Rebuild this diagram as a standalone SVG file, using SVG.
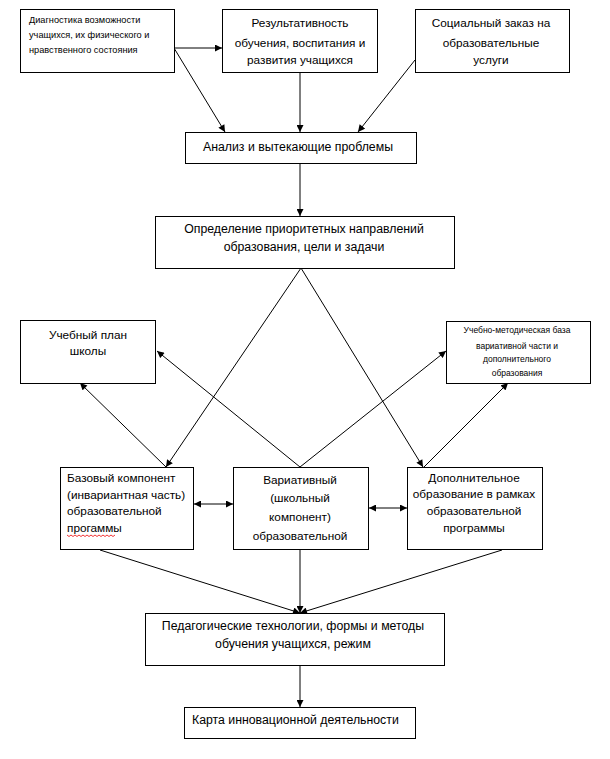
<svg xmlns="http://www.w3.org/2000/svg" width="610" height="759" viewBox="0 0 610 759">
<style>
.box{fill:#fff;stroke:#000;stroke-width:1}
.t{font-family:"Liberation Sans",Arial,sans-serif;font-size:11.8px;fill:#000}
.m{font-family:"Liberation Sans",Arial,sans-serif;font-size:12.3px;fill:#000}
.s{font-family:"Liberation Sans",Arial,sans-serif;font-size:9.2px;fill:#000}
.xs{font-family:"Liberation Sans",Arial,sans-serif;font-size:8.5px;fill:#000}
.c{text-anchor:middle}
.ln{stroke:#000;stroke-width:1;fill:none}
</style>
<defs>
<marker id="a" viewBox="0 0 10 10" refX="10" refY="5" markerWidth="8" markerHeight="7" markerUnits="userSpaceOnUse" orient="auto-start-reverse">
<path d="M0,0 L10,5 L0,10 z" fill="#000"/>
</marker>
</defs>
<rect width="610" height="759" fill="#fff"/>
<g id="connectors">
<line class="ln" x1="174" y1="48" x2="222" y2="48" marker-end="url(#a)"/>
<line class="ln" x1="174" y1="48" x2="225" y2="132" marker-end="url(#a)"/>
<line class="ln" x1="300" y1="72" x2="300" y2="132" marker-end="url(#a)"/>
<line class="ln" x1="415" y1="60" x2="358" y2="132" marker-end="url(#a)"/>
<line class="ln" x1="300" y1="163" x2="300" y2="216" marker-end="url(#a)"/>
<line class="ln" x1="301" y1="268" x2="166" y2="467" marker-end="url(#a)"/>
<line class="ln" x1="301" y1="268" x2="423" y2="467" marker-end="url(#a)"/>
<line class="ln" x1="166" y1="467" x2="80" y2="383" marker-end="url(#a)"/>
<line class="ln" x1="300" y1="467" x2="157" y2="351" marker-end="url(#a)"/>
<line class="ln" x1="300" y1="467" x2="446" y2="351" marker-end="url(#a)"/>
<line class="ln" x1="424" y1="467" x2="508" y2="383" marker-end="url(#a)"/>
<line class="ln" x1="194" y1="504" x2="233" y2="504" marker-start="url(#a)" marker-end="url(#a)"/>
<line class="ln" x1="369" y1="508" x2="407" y2="508" marker-start="url(#a)" marker-end="url(#a)"/>
<line class="ln" x1="100" y1="550" x2="300" y2="613" marker-end="url(#a)"/>
<line class="ln" x1="300" y1="550" x2="300" y2="613" marker-end="url(#a)"/>
<line class="ln" x1="502" y1="550" x2="300" y2="613" marker-end="url(#a)"/>
<line class="ln" x1="300" y1="665" x2="300" y2="707" marker-end="url(#a)"/>
</g>
<g id="diag">
<rect class="box" x="20.5" y="9.5" width="154" height="63"/>
<text class="s" x="29" y="23">Диагностика возможности</text>
<text class="s" x="29" y="38">учащихся, их физического и</text>
<text class="s" x="29" y="53">нравственного состояния</text>
</g>
<g id="result">
<rect class="box" x="222.5" y="9.5" width="155" height="63"/>
<text class="t c" x="300" y="27">Результативность</text>
<text class="t c" x="300" y="47">обучения, воспитания и</text>
<text class="t c" x="300" y="64">развития учащихся</text>
</g>
<g id="social">
<rect class="box" x="415.5" y="9.5" width="154" height="63"/>
<text class="t c" x="491" y="27">Социальный заказ на</text>
<text class="t c" x="491" y="47">образовательные</text>
<text class="t c" x="491" y="64">услуги</text>
</g>
<g id="analysis">
<rect class="box" x="185.5" y="132.5" width="231" height="31"/>
<text class="m c" x="298" y="151">Анализ и вытекающие проблемы</text>
</g>
<g id="priority">
<rect class="box" x="155.5" y="216.5" width="299" height="52"/>
<text class="m c" x="304" y="233">Определение приоритетных направлений</text>
<text class="m c" x="304" y="251">образования, цели и задачи</text>
</g>
<g id="plan">
<rect class="box" x="20.5" y="320.5" width="135" height="63"/>
<text class="t c" x="88" y="339">Учебный план</text>
<text class="t c" x="88" y="355">школы</text>
</g>
<g id="umb">
<rect class="box" x="446.5" y="321.5" width="144" height="62"/>
<text class="xs c" x="517" y="333">Учебно-методическая  база</text>
<text class="xs c" x="517" y="349">вариативной части и</text>
<text class="xs c" x="517" y="362">дополнительного</text>
<text class="xs c" x="517" y="376">образования</text>
</g>
<g id="base">
<rect class="box" x="60.5" y="467.5" width="133" height="82"/>
<text class="t" x="67" y="482">Базовый компонент</text>
<text class="t" x="67" y="499">(инвариантная часть)</text>
<text class="t" x="67" y="515">образовательной</text>
<text class="t" x="67" y="532">прогаммы</text>
<path d="M67,535 l2,1.5 l2,-1.5 l2,1.5 l2,-1.5 l2,1.5 l2,-1.5 l2,1.5 l2,-1.5 l2,1.5 l2,-1.5 l2,1.5 l2,-1.5 l2,1.5 l2,-1.5 l2,1.5 l2,-1.5 l2,1.5 l2,-1.5 l2,1.5 l2,-1.5 l2,1.5 l2,-1.5 l2,1.5 l2,-1.5" fill="none" stroke="#e00" stroke-width="0.8"/>
</g>
<g id="var">
<rect class="box" x="233.5" y="467.5" width="135" height="82"/>
<text class="t c" x="300" y="484">Вариативный</text>
<text class="t c" x="300" y="502">(школьный</text>
<text class="t c" x="300" y="521">компонент)</text>
<text class="t c" x="300" y="540">образовательной</text>
</g>
<g id="add">
<rect class="box" x="407.5" y="467.5" width="135" height="82"/>
<text class="t c" x="474" y="482">Дополнительное</text>
<text class="t c" x="474" y="498">образование в рамках</text>
<text class="t c" x="474" y="515">образовательной</text>
<text class="t c" x="474" y="532">программы</text>
</g>
<g id="ped">
<rect class="box" x="145.5" y="613.5" width="299" height="52"/>
<text class="m c" x="293" y="630">Педагогические технологии, формы и методы</text>
<text class="m c" x="293" y="648">обучения учащихся, режим</text>
</g>
<g id="map">
<rect class="box" x="184.5" y="707.5" width="231" height="31"/>
<text class="m" x="192" y="724">Карта инновационной деятельности</text>
</g>
</svg>
